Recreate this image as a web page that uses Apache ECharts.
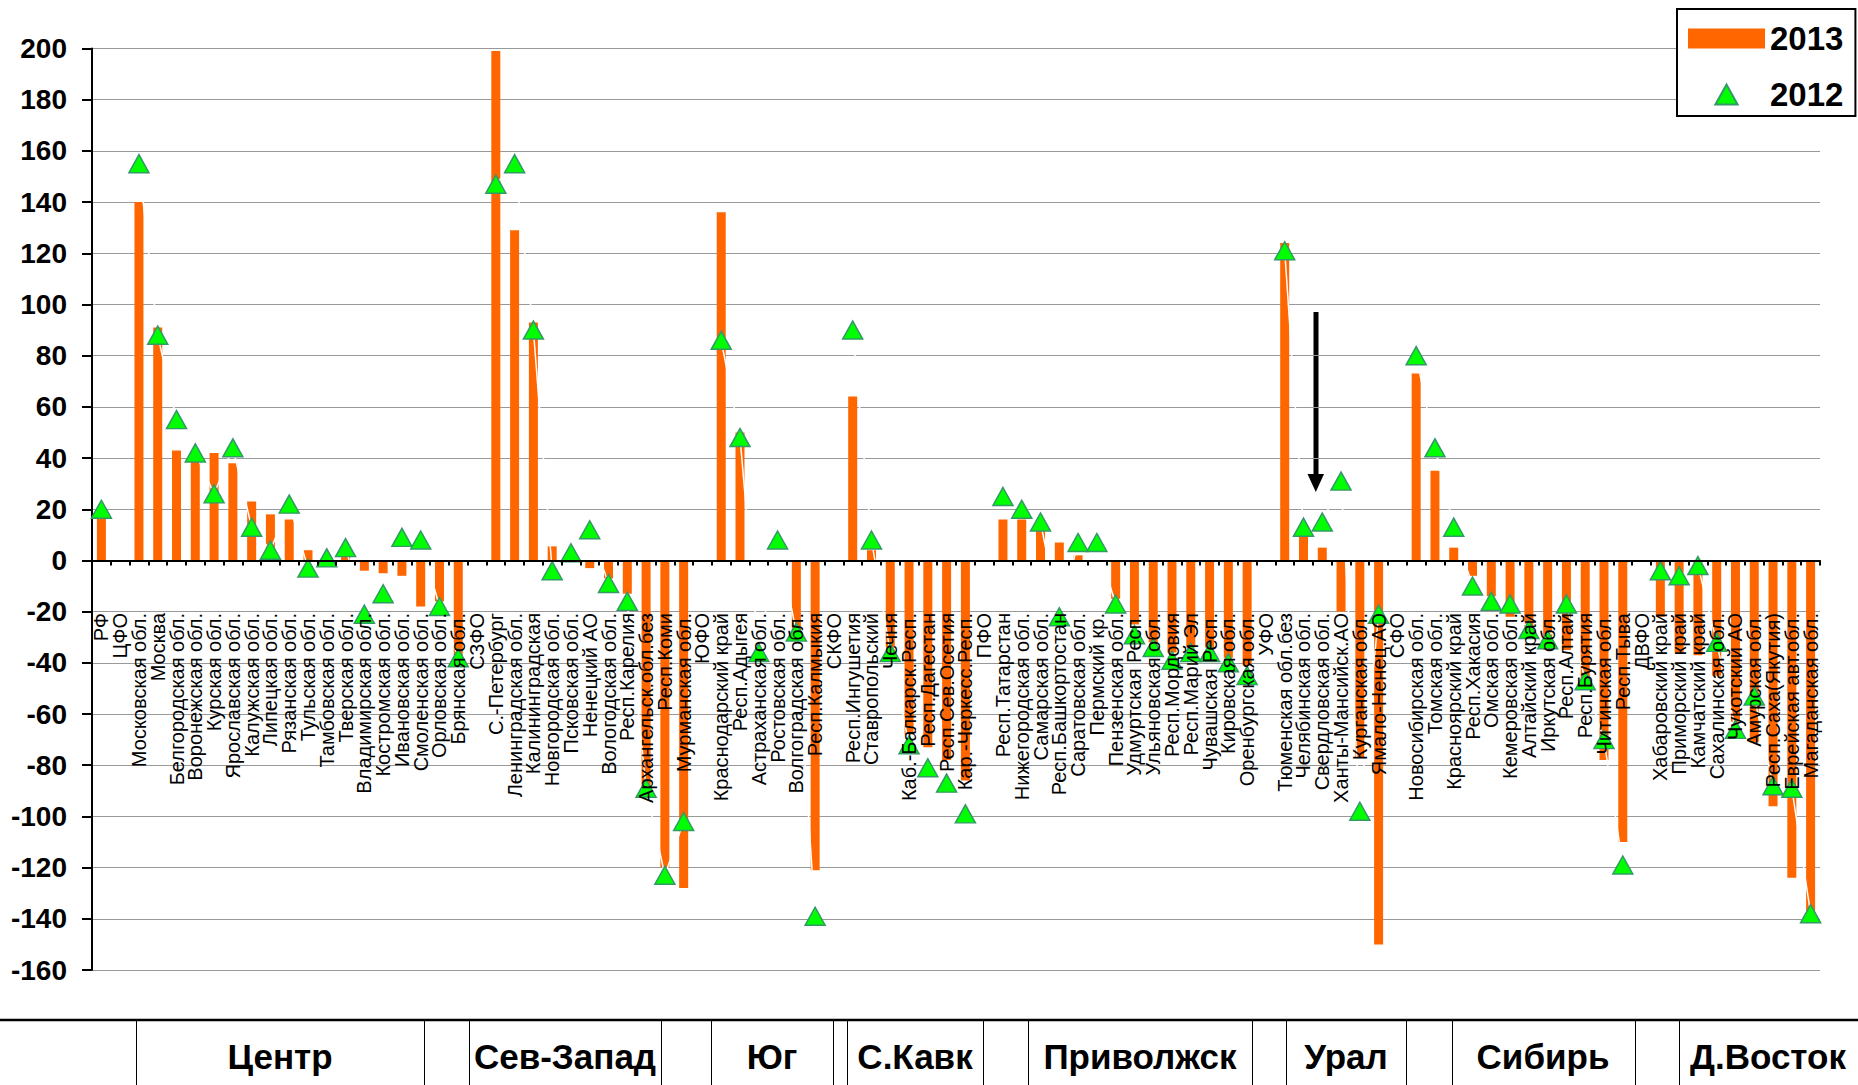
<!DOCTYPE html>
<html><head><meta charset="utf-8">
<script src="https://cdn.jsdelivr.net/npm/echarts@6/dist/echarts.min.js"></script>
<style>html,body{margin:0;padding:0;background:#fff}#c{width:1858px;height:1085px}</style>
</head><body><div id="c"></div>
<script>
// ---------- DATA ----------
const categories = [
  'РФ','ЦФО','Московская обл.','Москва','Белгородская обл.','Воронежская обл.','Курская обл.','Ярославская обл.',
  'Калужская обл.','Липецкая обл.','Рязанская обл.','Тульская обл.','Тамбовская обл.','Тверская обл.','Владимирская обл.',
  'Костромская обл.','Ивановская обл.','Смоленская обл.','Орловская обл.','Брянская обл.',
  'СЗФО','С.-Петербург','Ленинградская обл.','Калининградская','Новгородская обл.','Псковская обл.','Ненецкий АО',
  'Вологодская обл.','Респ.Карелия','Архангельск.обл.без','Респ.Коми','Мурманская обл.',
  'ЮФО','Краснодарский край','Респ.Адыгея','Астраханская обл.','Ростовская обл.','Волгоградская обл.','Респ.Калмыкия',
  'СКФО','Респ.Ингушетия','Ставропольский','Чечня','Каб.-Балкарск.Респ.','Респ.Дагестан','Респ.Сев.Осетия','Кар.-Черкесс.Респ.',
  'ПФО','Респ.Татарстан','Нижегородская обл.','Самарская обл.','Респ.Башкортостан','Саратовская обл.','Пермский кр.',
  'Пензенская обл.','Удмуртская Респ.','Ульяновская обл.','Респ.Мордовия','Респ.Марий Эл','Чувашская Респ.','Кировская обл.','Оренбургская обл.',
  'УФО','Тюменская обл.без','Челябинская обл.','Свердловская обл.','Ханты-Мансийск.АО','Курганская обл.','Ямало-Ненец.АО',
  'СФО','Новосибирская обл.','Томская обл.','Красноярский край','Респ.Хакасия','Омская обл.','Кемеровская обл.','Алтайский край',
  'Иркутская обл.','Респ.Алтай','Респ.Бурятия','Читинская обл.','Респ.Тыва',
  'ДВФО','Хабаровский край','Приморский край','Камчатский край','Сахалинская обл.','Чукотский АО','Амурская обл.',
  'Респ.Саха(Якутия)','Еврейская авт.обл.','Магаданская обл.'
];
const values2013 = [
  17, null, 140, 91, 43, 39, 42, 38, 23, 18, 16, 4, 0, 2, -4, -5, -6, -18, -16, -37,
  null, 199, 129, 93, 5.5, 0, -3, -7, -13, -92, -120, -128,
  null, 136, 50, 0, 0, -31, -121,
  null, 64, 4, -34, -68, -73, -78, -86,
  null, 16, 16, 12, 7, 2, 0, -15, -25, -32, -36, -34, -34, -38, -41,
  null, 124, 10, 5, -20, -77, -150,
  null, 73, 35, 5, -6, -14, -22, -26, -35, -35, -50, -78, -110,
  null, -22, -36, -37, -45, -63, -71, -96, -124, -137
];
const values2012 = [
  20, null, 155, 88, 55, 42, 26, 44, 13, 4, 22, -3, 1, 5, -21, -13, 9, 8, -18, -38,
  null, 147, 155, 90, -4, 3, 12, -9, -16, -89, -123, -102,
  null, 86, 48, -36, 8, -28, -139,
  null, 90, 8, -36, -72, -81, -87, -99,
  null, 25, 20, 15, -22, 7, 7, -17, -29, -34, -39, -36, -36, -40, -45,
  null, 121, 13, 15, 31, -98, -21,
  null, 80, 44, 13, -10, -16, -17, -27, -31, -17, -47, -70, -119,
  null, -4, -6, -2, -32, -66, -53, -88, -89, -138
];
const districts = ['Центр','Сев-Запад','Юг','С.Кавк','Приволжск','Урал','Сибирь','Д.Восток'];
const seriesNames = ['2013','2012'];

// ---------- LAYOUT / STYLE ----------
const FONT = "'Liberation Sans', Arial, Helvetica, sans-serif";
const band = {
  lineY: 1020, bottom: 1085,
  separators: [136,424,469,661,711,833,847,983,1028,1252,1286,1406,1452,1635,1679],
  centers: [280,565,772,915,1140,1346,1543,1768],
  textY: 1056
};

const graphics = [];
graphics.push({type:'line', silent:true, shape:{x1:0,y1:band.lineY,x2:1858,y2:band.lineY}, style:{stroke:'#000', lineWidth:2.5}});
band.separators.forEach(x => graphics.push({type:'line', silent:true,
  shape:{x1:x+0.5,y1:band.lineY,x2:x+0.5,y2:band.bottom}, style:{stroke:'#000', lineWidth:1}}));
districts.forEach((t,i) => graphics.push({type:'text', silent:true, x:band.centers[i], y:band.textY,
  style:{text:t, font:"bold 35px " + FONT, fill:'#000', textAlign:'center', textVerticalAlign:'middle'}}));
// arrow annotation
graphics.push({type:'rect', silent:true, shape:{x:1313.5,y:312,width:5,height:165}, style:{fill:'#000'}});
graphics.push({type:'polygon', silent:true, shape:{points:[[1307.5,474],[1324,474],[1315.8,492]]}, style:{fill:'#000'}});

const chart = echarts.init(document.getElementById('c'), null, {renderer:'svg'});
chart.setOption({
  animation: false,
  backgroundColor: '#fff',
  grid: {left: 92, right: 38, top: 48.5, bottom: 115, containLabel: false, outerBoundsMode: 'none'},
  legend: {
    orient: 'vertical', left: 1677, top: 9,
    padding: [13, 12, 5, 11],
    itemWidth: 77, itemHeight: 20, itemGap: 23,
    backgroundColor: '#fff', borderColor: '#000', borderWidth: 2,
    textStyle: {fontSize: 33, fontWeight: 'bold', color: '#000', fontFamily: FONT},
    data: [{name: seriesNames[0], icon: 'rect'}, {name: seriesNames[1], icon: 'path://M0,18L10,0L20,18Z'}]
  },
  xAxis: {
    type: 'category', data: categories, z: 10,
    axisLine: {onZero: true, lineStyle: {color: '#000', width: 2}},
    axisTick: {show: true, interval: 0, length: 5, lineStyle: {color: '#000', width: 2}},
    axisLabel: {interval: 0, rotate: 90, margin: -357, fontSize: 20, color: '#000', fontFamily: FONT, hideOverlap: false},
    splitLine: {show: false}
  },
  yAxis: {
    type: 'value', min: -160, max: 200, interval: 20,
    axisLine: {show: true, lineStyle: {color: '#000', width: 2}},
    axisTick: {show: true, length: 10, lineStyle: {color: '#000', width: 2}},
    axisLabel: {fontSize: 28, fontWeight: 'bold', color: '#000', margin: 25, fontFamily: FONT},
    splitLine: {show: true, lineStyle: {color: '#999', width: 1}}
  },
  series: [
    {name: seriesNames[0], type: 'bar', data: values2013, barWidth: 9, itemStyle: {color: '#FF6600', opacity: 1}, z: 2},
    {name: 'trend2012', type: 'line', data: values2012, symbol: 'none', connectNulls: false, silent: true,
     lineStyle: {color: '#fff', width: 1.5}, z: 3},
    {name: seriesNames[1], type: 'scatter', data: values2012, symbol: 'triangle', symbolSize: [20, 18],
     itemStyle: {color: '#00FF00', borderColor: '#339966', borderWidth: 1.5, opacity: 1}, z: 4}
  ],
  graphic: graphics
});
</script></body></html>
